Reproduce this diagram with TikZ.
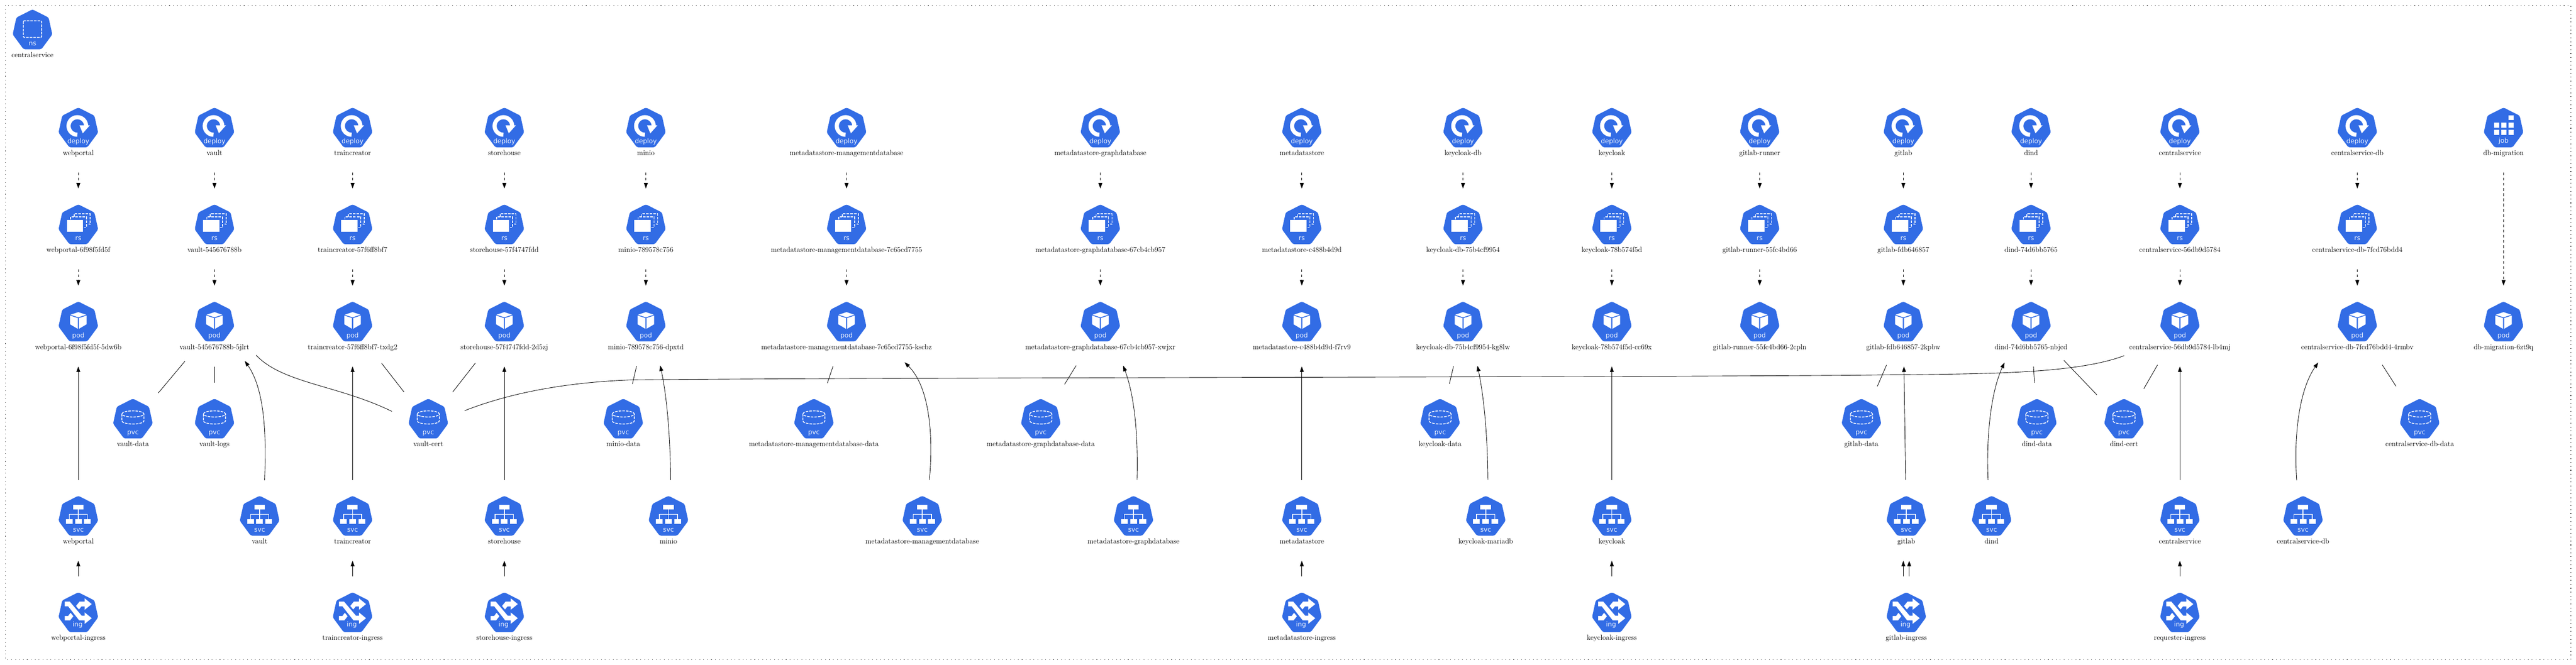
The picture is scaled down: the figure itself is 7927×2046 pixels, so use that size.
\documentclass[tikz,border=0pt]{standalone}
\usepackage{fontspec}
\usetikzlibrary{shapes.geometric,arrows.meta}
\newfontfamily\icf{DejaVu Sans}
\newcommand{\lblf}{\fontsize{11.2}{13}\selectfont}
\newlength{\lblw}
\definecolor{kblue}{HTML}{326CE5}
\definecolor{kwhite}{HTML}{EEF3FD}
\tikzset{
  keybox/.style={ellipse,inner sep=0pt,outer sep=0pt,minimum height=124.5pt},
  lbl/.style={font=\lblf,anchor=base,inner sep=0pt},
  itx/.style={font=\icf\fontsize{10}{12}\selectfont,text=kwhite,anchor=base,inner sep=0pt},
  flow/.style={line width=.7pt,-{Triangle[length=8.5pt,width=6pt]}},
  own/.style={flow,dash pattern=on 4.25pt off 3.75pt},
  tie/.style={line width=.7pt},
  dsh/.style={draw=white,line width=1.25pt,dash pattern=on 4pt off 1.6pt},
  hept/.pic={\fill[kblue,rounded corners=2.5pt] (0,-1) -- (49.5,24) -- (61,76) -- (27.5,121.5) -- (-27.5,121.5) -- (-61,76) -- (-49.5,24) -- cycle;},
  dep/.pic={\pic {hept};
    \draw[white,line width=6.35pt] (-3,82.7) arc[start angle=-90,end angle=-360,radius=13.5pt];
    \fill[white] (3.7,54) -- (35.3,54) -- (13.7,78.3) -- cycle;
    \node[itx] (-t) at (0,110) {deploy};},
  rsi/.pic={\pic {hept};
    \fill[white] (-35.5,47) rectangle (14.8,84);
    \draw[dsh] (-13,37) -- (-13,28) -- (36,28) -- (36,60) -- (31,60);
    \draw[dsh] (-23.7,46) -- (-23.7,37.8) -- (25,37.8) -- (25,70) -- (17,70);
    \node[itx] (-t) at (0,110) {rs};},
  poi/.pic={\pic {hept};
    \fill[white] (0,31.6) -- (24.3,39.8) -- (0,47.4) -- (-24.3,39.8) -- cycle;
    \fill[white] (-25.5,42.3) -- (-1.8,50) -- (-1.8,83) -- (-25.5,69) -- cycle;
    \fill[white] (25.5,42.3) -- (1.8,50) -- (1.8,83) -- (25.5,69) -- cycle;
    \node[itx] (-t) at (0,110) {pod};},
  pvi/.pic={\pic {hept};
    \draw[dsh] (-34,46) arc[x radius=17pt,y radius=4.75pt,start angle=180,end angle=-180];
    \draw[dsh] (-34,46) -- (-34,67.5) arc[x radius=17pt,y radius=4.75pt,start angle=180,end angle=360] -- (34,46);
    \node[itx] (-t) at (0,110) {pvc};},
  svi/.pic={\pic {hept};
    \fill[white] (-16.5,26) rectangle (16,41.3);
    \draw[white,line width=1.25pt] (0,41) -- (0,72);
    \draw[white,line width=1.25pt] (-28,72) -- (-28,56) -- (28,56) -- (28,72);
    \fill[white] (-38.7,70.7) rectangle (-18,85.7);
    \fill[white] (-10.3,70.7) rectangle (10.3,85.7);
    \fill[white] (18,70.7) rectangle (38.7,85.7);
    \node[itx] (-t) at (0,110) {svc};},
  ini/.pic={\pic {hept};
    \fill[white] (-42,27.7) -- (-26.3,27.7) -- (10.3,71) -- (19.7,71) -- (19.7,61) -- (41.3,78.7) -- (19.7,96) -- (19.7,85.3) -- (2.7,85.3) -- (-31.3,42) -- (-42,42) -- cycle;
    \fill[white] (-7,41) -- (3.7,27.7) -- (19.7,27.7) -- (19.7,17.7) -- (41.3,35.3) -- (19.7,52.7) -- (19.7,42.7) -- (9.3,42.7) -- (2,51.7) -- cycle;
    \fill[white] (-42,72) -- (-31.3,72) -- (-24,62) -- (-15.3,72.7) -- (-25.3,85.3) -- (-42,85.3) -- cycle;
    \node[itx] (-t) at (-2.3,104) {ing};},
  nsi/.pic={\pic {hept};
    \draw[dsh,rounded corners=1pt] (-28,34) rectangle (28,85);
    \node[itx] (-t) at (0,110) {ns};},
  joi/.pic={\pic {hept};
    \foreach \xa/\ya in {14.8/22.4,-29.6/45,-7.7/45,14.8/45,-29.6/68,-7.7/68,14.8/68}
      \fill[white] (\xa,\ya) rectangle ++(16,15.5);
    \node[itx] (-t) at (0,108) {job};},
}
\newcommand{\kn}[5]{%
  \node[lbl] (#1-l) at (#2,#3+146) {#5};
  \pgfextractx{\lblw}{\pgfpointdiff{\pgfpointanchor{#1-l}{west}}{\pgfpointanchor{#1-l}{east}}}%
  \pgfmathsetmacro{\kw}{1.414*(max(60,\lblw)+23)}%
  \node[keybox,minimum width=\kw pt] (#1) at (#2,#3+74.5) {};
  \pic (#1-i) at (#2,#3) {#4};
}
\begin{document}
\begin{tikzpicture}[x=.5pt,y=-.5pt]
\useasboundingbox (0,0) rectangle (7927,2046);
\fill[white] (0,0) rectangle (7927,2046);
\coordinate (bA) at (16,16);
\coordinate (bB) at (7911,2030);
\draw[line width=.85pt,black!80,dash pattern=on .85pt off 5.2pt] (bA) rectangle (bB);

\def\dT{332}\def\rT{630}\def\pT{929}\def\vT{1228}\def\sT{1527}\def\iT{1824}
\kn{ns}{100}{30}{nsi}{centralservice}
% deployments, replica sets, pods
\kn{d1}{241}{\dT}{dep}{webportal}
\kn{r1}{241}{\rT}{rsi}{webportal-6f98f5fd5f}
\kn{p1}{241}{\pT}{poi}{webportal-6f98f5fd5f-5dw6b}
\kn{d2}{660}{\dT}{dep}{vault}
\kn{r2}{660}{\rT}{rsi}{vault-545676788b}
\kn{p2}{660}{\pT}{poi}{vault-545676788b-5jlrt}
\kn{d3}{1085}{\dT}{dep}{traincreator}
\kn{r3}{1085}{\rT}{rsi}{traincreator-57f6ff8bf7}
\kn{p3}{1085}{\pT}{poi}{traincreator-57f6ff8bf7-txdg2}
\kn{d4}{1552}{\dT}{dep}{storehouse}
\kn{r4}{1552}{\rT}{rsi}{storehouse-57f4747fdd}
\kn{p4}{1552}{\pT}{poi}{storehouse-57f4747fdd-2d5zj}
\kn{d5}{1987.5}{\dT}{dep}{minio}
\kn{r5}{1987.5}{\rT}{rsi}{minio-789578c756}
\kn{p5}{1987.5}{\pT}{poi}{minio-789578c756-dpxtd}
\kn{d6}{2605}{\dT}{dep}{metadatastore-managementdatabase}
\kn{r6}{2605}{\rT}{rsi}{metadatastore-managementdatabase-7c65cd7755}
\kn{p6}{2605}{\pT}{poi}{metadatastore-managementdatabase-7c65cd7755-kscbz}
\kn{d7}{3386}{\dT}{dep}{metadatastore-graphdatabase}
\kn{r7}{3386}{\rT}{rsi}{metadatastore-graphdatabase-67cb4cb957}
\kn{p7}{3386}{\pT}{poi}{metadatastore-graphdatabase-67cb4cb957-xwjxr}
\kn{d8}{4006}{\dT}{dep}{metadatastore}
\kn{r8}{4006}{\rT}{rsi}{metadatastore-c488b4d9d}
\kn{p8}{4006}{\pT}{poi}{metadatastore-c488b4d9d-f7rv9}
\kn{d9}{4502}{\dT}{dep}{keycloak-db}
\kn{r9}{4502}{\rT}{rsi}{keycloak-db-75b4cf9954}
\kn{p9}{4502}{\pT}{poi}{keycloak-db-75b4cf9954-kg8lw}
\kn{d10}{4960}{\dT}{dep}{keycloak}
\kn{r10}{4960}{\rT}{rsi}{keycloak-78b574f5d}
\kn{p10}{4960}{\pT}{poi}{keycloak-78b574f5d-cc69x}
\kn{d11}{5415}{\dT}{dep}{gitlab-runner}
\kn{r11}{5415}{\rT}{rsi}{gitlab-runner-55fc4bd66}
\kn{p11}{5415}{\pT}{poi}{gitlab-runner-55fc4bd66-2cpln}
\kn{d12}{5857}{\dT}{dep}{gitlab}
\kn{r12}{5857}{\rT}{rsi}{gitlab-fdb646857}
\kn{p12}{5857}{\pT}{poi}{gitlab-fdb646857-2kpbw}
\kn{d13}{6250}{\dT}{dep}{dind}
\kn{r13}{6250}{\rT}{rsi}{dind-74d6bb5765}
\kn{p13}{6250}{\pT}{poi}{dind-74d6bb5765-nbjcd}
\kn{d14}{6708}{\dT}{dep}{centralservice}
\kn{r14}{6708}{\rT}{rsi}{centralservice-56db9d5784}
\kn{p14}{6708}{\pT}{poi}{centralservice-56db9d5784-lb4mj}
\kn{d15}{7254}{\dT}{dep}{centralservice-db}
\kn{r15}{7254}{\rT}{rsi}{centralservice-db-7fcd76bdd4}
\kn{p15}{7254}{\pT}{poi}{centralservice-db-7fcd76bdd4-4rmbv}
\kn{j1}{7704}{\dT}{joi}{db-migration}
\kn{p16}{7704}{\pT}{poi}{db-migration-6zt9q}
% claims
\kn{vd}{409}{\vT}{pvi}{vault-data}
\kn{vl}{660}{\vT}{pvi}{vault-logs}
\kn{vc}{1318}{\vT}{pvi}{vault-cert}
\kn{md}{1918}{\vT}{pvi}{minio-data}
\kn{mgd}{2504.5}{\vT}{pvi}{metadatastore-managementdatabase-data}
\kn{gdd}{3202.7}{\vT}{pvi}{metadatastore-graphdatabase-data}
\kn{kd}{4431.5}{\vT}{pvi}{keycloak-data}
\kn{gd}{5728}{\vT}{pvi}{gitlab-data}
\kn{dd}{6268}{\vT}{pvi}{dind-data}
\kn{dc}{6536}{\vT}{pvi}{dind-cert}
\kn{csd}{7446}{\vT}{pvi}{centralservice-db-data}
% services
\kn{s1}{241}{\sT}{svi}{webportal}
\kn{s2}{799}{\sT}{svi}{vault}
\kn{s3}{1085}{\sT}{svi}{traincreator}
\kn{s4}{1552}{\sT}{svi}{storehouse}
\kn{s5}{2057}{\sT}{svi}{minio}
\kn{s6}{2838}{\sT}{svi}{metadatastore-managementdatabase}
\kn{s7}{3488}{\sT}{svi}{metadatastore-graphdatabase}
\kn{s8}{4006}{\sT}{svi}{metadatastore}
\kn{s9}{4572}{\sT}{svi}{keycloak-mariadb}
\kn{s10}{4960}{\sT}{svi}{keycloak}
\kn{s12}{5866}{\sT}{svi}{gitlab}
\kn{s13}{6128.6}{\sT}{svi}{dind}
\kn{s14}{6708}{\sT}{svi}{centralservice}
\kn{s15}{7087}{\sT}{svi}{centralservice-db}
% ingresses
\kn{i1}{241}{\iT}{ini}{webportal-ingress}
\kn{i3}{1085}{\iT}{ini}{traincreator-ingress}
\kn{i4}{1552}{\iT}{ini}{storehouse-ingress}
\kn{i8}{4006}{\iT}{ini}{metadatastore-ingress}
\kn{i10}{4960}{\iT}{ini}{keycloak-ingress}
\kn{i12}{5866}{\iT}{ini}{gitlab-ingress}
\kn{i14}{6708}{\iT}{ini}{requester-ingress}

% ownership (dashed)
\foreach \n in {1,...,15}{
  \draw[own] (d\n) -- (r\n);
  \draw[own] (r\n) -- (p\n);
}
\draw[own] (j1) -- (p16);
% ingress to service
\draw[flow] (i1) -- (s1);
\draw[flow] (i3) -- (s3);
\draw[flow] (i4) -- (s4);
\draw[flow] (i8) -- (s8);
\draw[flow] (i10) -- (s10);
\draw[flow] ([xshift=-4.5pt]i12.north) -- ([xshift=-4.5pt]s12.south);
\draw[flow] ([xshift=4.5pt]i12.north) -- ([xshift=4.5pt]s12.south);
\draw[flow] (i14) -- (s14);
% service to pod
\draw[flow] (s1) -- (p1);
\draw[flow] (s3) -- (p3);
\draw[flow] (s4) -- (p4);
\draw[flow] (s8) -- (p8);
\draw[flow] (s10) -- (p10);
\draw[flow] (s12) -- (p12);
\draw[flow] (s14) -- (p14);
\coordinate (c2a) at (820,1340); \coordinate (c2b) at (815,1200);
\draw[flow] (s2.83.6) .. controls (c2a) and (c2b) .. (p2.-49.4);
\coordinate (c5a) at (2063,1360); \coordinate (c5b) at (2054,1230);
\draw[flow] (s5.87.7) .. controls (c5a) and (c5b) .. (p5.-70);
\coordinate (c6a) at (2873,1340); \coordinate (c6b) at (2860,1190);
\draw[flow] (s6.80) .. controls (c6a) and (c6b) .. (p6.-32.9);
\coordinate (c7a) at (3502,1360); \coordinate (c7b) at (3495,1230);
\draw[flow] (s7.85.3) .. controls (c7a) and (c7b) .. (p7.-60);
\coordinate (c9a) at (4578,1370); \coordinate (c9b) at (4570,1240);
\draw[flow] (s9.87.7) .. controls (c9a) and (c9b) .. (p9.-70.2);
\coordinate (c13a) at (6112,1350); \coordinate (c13b) at (6125,1210);
\draw[flow] (s13.95.7) .. controls (c13a) and (c13b) .. (p13.234.1);
\coordinate (c15a) at (7058,1340); \coordinate (c15b) at (7075,1200);
\draw[flow] (s15.99.5) .. controls (c15a) and (c15b) .. (p15.223);
% pod to claim
\draw[tie] (p2) -- (vd);
\draw[tie] (p2) -- (vl);
\draw[tie] (p3) -- (vc);
\draw[tie] (p4) -- (vc);
\draw[tie] (p5) -- (md);
\draw[tie] (p6) -- (mgd);
\draw[tie] (p7) -- (gdd);
\draw[tie] (p9) -- (kd);
\draw[tie] (p12) -- (gd);
\draw[tie] (p13) -- (dd);
\draw[tie] (p13) -- (dc);
\draw[tie] (p14) -- (dc);
\draw[tie] (p15) -- (csd);
\coordinate (t1a) at (870,1180); \coordinate (t1b) at (1040,1185);
\draw[tie] (p2.-35) .. controls (t1a) and (t1b) .. (vc.162.3);
\coordinate (w1) at (1953,1169); \coordinate (w2) at (5700,1155);
\draw[tie] (vc.19.4) .. controls (1580,1205) and (1760,1175) .. (w1)
  .. controls (2800,1161.5) and (4800,1161.5) .. (w2)
  .. controls (6050,1150) and (6370,1157) .. (p14.208.8);
\end{tikzpicture}
\end{document}
